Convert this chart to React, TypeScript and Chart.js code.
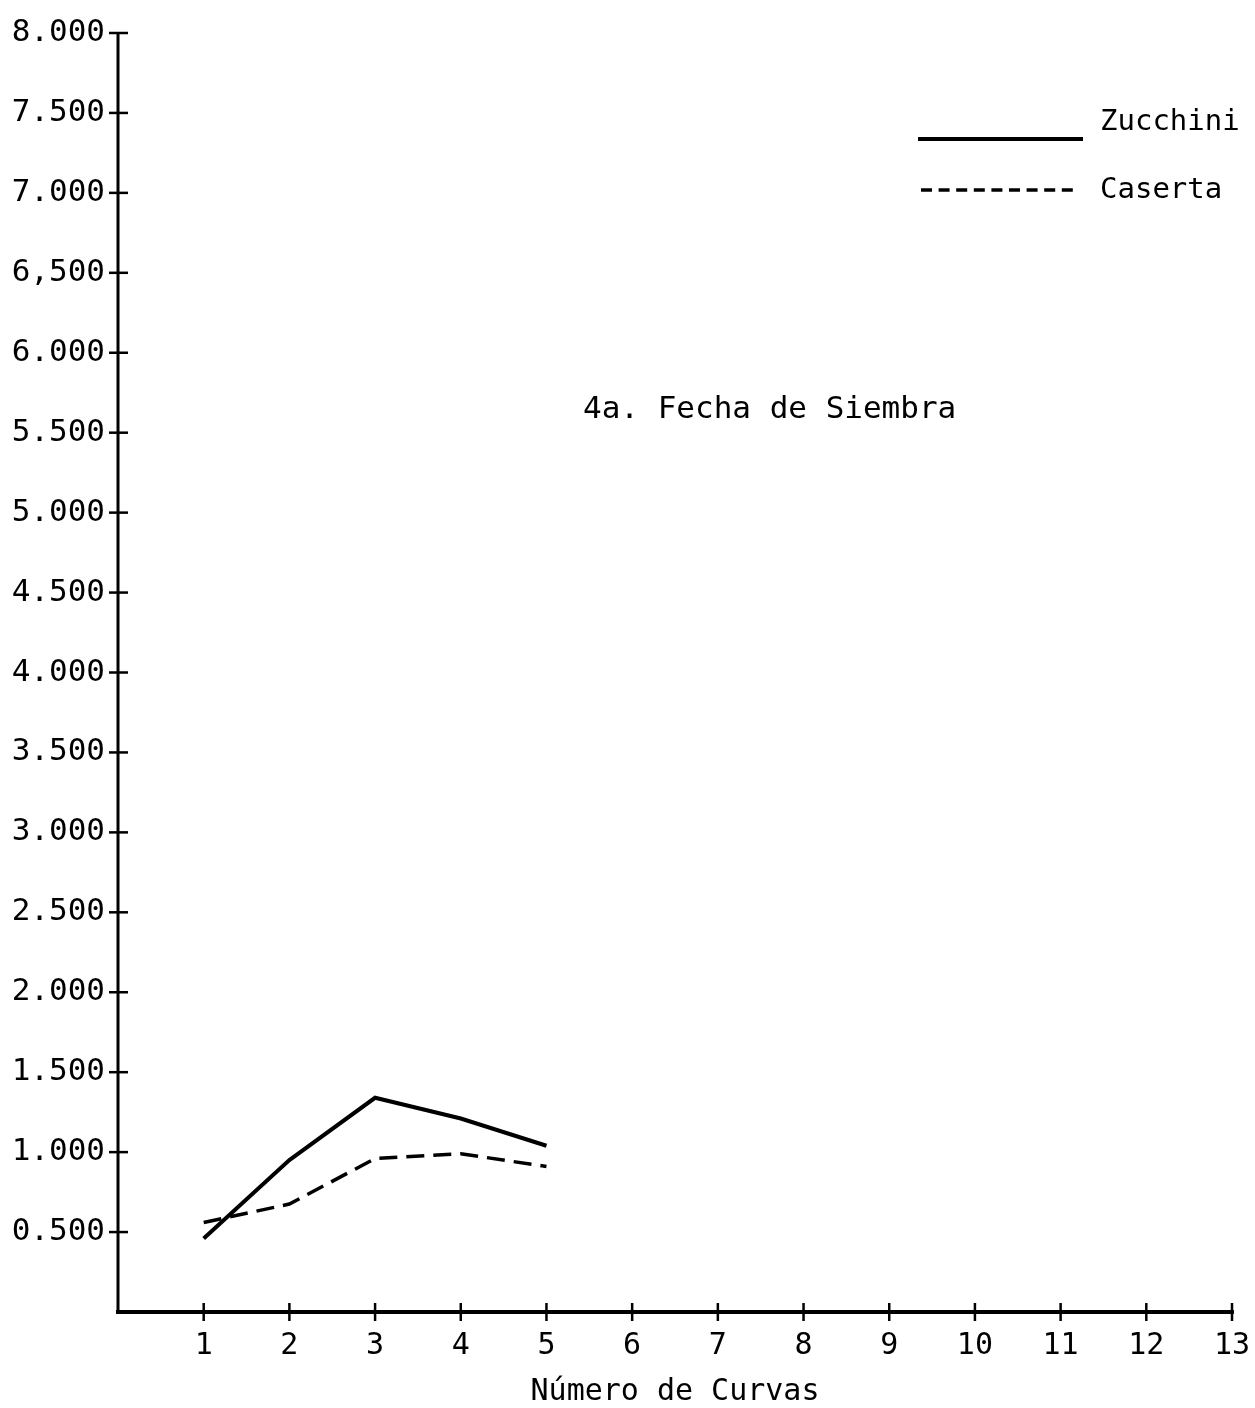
import React, { useEffect, useRef } from "react";
import { Chart, registerables } from "chart.js";

Chart.register(...registerables);

const curvas = [1, 2, 3, 4, 5];
const zucchini = [0.46, 0.95, 1.34, 1.21, 1.04];
const caserta = [0.56, 0.675, 0.96, 0.99, 0.91];
const yTickLabels = [
  "0.500", "1.000", "1.500", "2.000", "2.500", "3.000", "3.500", "4.000",
  "4.500", "5.000", "5.500", "6.000", "6,500", "7.000", "7.500", "8.000",
];
const xTickLabels = ["1", "2", "3", "4", "5", "6", "7", "8", "9", "10", "11", "12", "13"];
const seriesNames = ["Zucchini", "Caserta"];
const chartTitle = "4a. Fecha de Siembra";
const xAxisTitle = "Número de Curvas";

const FONT = "'DejaVu Sans Mono', monospace";

const decorPlugin = {
  id: "decor",
  afterDraw(chart: any) {
    const ctx = chart.ctx;
    const { left, right, top, bottom } = chart.chartArea;
    const xs = chart.scales.x;
    const ys = chart.scales.y;
    ctx.save();
    ctx.strokeStyle = "#000";
    ctx.lineCap = "butt";
    // axes
    ctx.lineWidth = 3;
    ctx.beginPath();
    ctx.moveTo(left, top);
    ctx.lineTo(left, bottom);
    ctx.stroke();
    ctx.lineWidth = 4;
    ctx.beginPath();
    ctx.moveTo(left - 2, bottom);
    ctx.lineTo(right + 2, bottom);
    ctx.stroke();
    // y ticks (crossing)
    ctx.lineWidth = 2.5;
    for (let i = 1; i <= yTickLabels.length; i++) {
      const y = ys.getPixelForValue(i * 0.5);
      ctx.beginPath();
      ctx.moveTo(left - 9, y);
      ctx.lineTo(left + 10, y);
      ctx.stroke();
    }
    // x ticks (crossing)
    for (let i = 1; i <= xTickLabels.length; i++) {
      const x = xs.getPixelForValue(i);
      ctx.beginPath();
      ctx.moveTo(x, bottom - 9);
      ctx.lineTo(x, bottom + 9);
      ctx.stroke();
    }
    // annotation title
    ctx.fillStyle = "#000";
    ctx.font = `31px ${FONT}`;
    ctx.textBaseline = "middle";
    ctx.textAlign = "left";
    ctx.fillText(chartTitle, left + 465, top + 377);
    // legend
    ctx.lineWidth = 4;
    ctx.beginPath();
    ctx.moveTo(left + 800, top + 106);
    ctx.lineTo(left + 965, top + 106);
    ctx.stroke();
    ctx.setLineDash([11, 6.6]);
    ctx.lineWidth = 3.5;
    ctx.beginPath();
    ctx.moveTo(left + 803, top + 157);
    ctx.lineTo(left + 960, top + 157);
    ctx.stroke();
    ctx.setLineDash([]);
    ctx.font = `29px ${FONT}`;
    ctx.fillText(seriesNames[0], left + 982, top + 89);
    ctx.fillText(seriesNames[1], left + 982, top + 157);
    ctx.restore();
  },
};

export default function App() {
  const ref = useRef<HTMLCanvasElement>(null);
  useEffect(() => {
    if (!ref.current) return;
    const chart = new Chart(ref.current, {
      type: "line",
      data: {
        datasets: [
          {
            label: seriesNames[0],
            data: curvas.map((c, i) => ({ x: c, y: zucchini[i] })),
            borderColor: "#000",
            borderWidth: 4,
            pointRadius: 0,
            tension: 0,
          },
          {
            label: seriesNames[1],
            data: curvas.map((c, i) => ({ x: c, y: caserta[i] })),
            borderColor: "#000",
            borderWidth: 3.5,
            borderDash: [18, 9],
            pointRadius: 0,
            tension: 0,
          },
        ],
      },
      options: {
        responsive: false,
        animation: false,
        layout: { padding: { top: 33, right: 23, left: 0, bottom: 0 } },
        plugins: {
          legend: { display: false },
          title: { display: false },
          tooltip: { enabled: false },
        },
        scales: {
          x: {
            type: "linear",
            min: 0,
            max: 13,
            grid: { display: false, tickLength: 0 },
            border: { display: false },
            ticks: {
              stepSize: 1,
              color: "#000",
              padding: 16,
              maxRotation: 0,
              autoSkip: false,
              font: { family: FONT, size: 30 },
              callback: (v: any) => (v >= 1 && v <= 13 ? xTickLabels[v - 1] : ""),
            },
            title: {
              display: true,
              text: xAxisTitle,
              color: "#000",
              font: { family: FONT, size: 30, lineHeight: 1 },
              padding: { top: 0, bottom: 1 },
            },
            afterFit: (s: any) => {
              s.height = 96;
              s.paddingLeft = 0;
              s.paddingRight = 0;
            },
          },
          y: {
            type: "linear",
            min: 0,
            max: 8,
            grid: { display: false, tickLength: 0 },
            border: { display: false },
            ticks: {
              stepSize: 0.5,
              color: "#000",
              padding: 13,
              autoSkip: false,
              font: { family: FONT, size: 31 },
              callback: (v: any) => {
                const idx = Math.round(v / 0.5) - 1;
                return idx >= 0 ? yTickLabels[idx] : "";
              },
            },
            afterFit: (s: any) => {
              s.width = 118;
              s.paddingTop = 0;
              s.paddingBottom = 0;
            },
          },
        },
      },
      plugins: [decorPlugin],
    } as any);
    return () => chart.destroy();
  }, []);
  return (
    <div style={{ position: "absolute", left: 0, top: 0, width: 1255, height: 1408, background: "#fff" }}>
      <canvas ref={ref} width={1255} height={1408} />
    </div>
  );
}
